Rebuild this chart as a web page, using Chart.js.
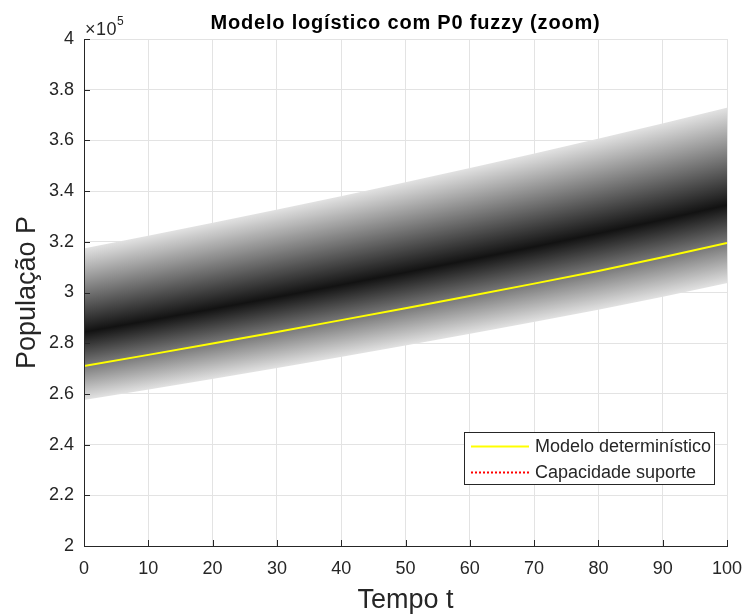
<!DOCTYPE html>
<html>
<head>
<meta charset="utf-8">
<script src="https://cdn.jsdelivr.net/npm/chart.js@4"></script>
<style>
  body { margin: 0; background: #fff; }
  #wrap { width: 747px; height: 615px; }
</style>
</head>
<body>
<div id="wrap"><canvas id="grafico" width="747" height="615"></canvas></div>
<script>
// dados (população em habitantes)
const tempo = [0, 10, 20, 30, 40, 50, 60, 70, 80, 90, 100];
const modeloDeterministico = [271000, 275400, 279900, 284400, 289100, 293800, 298600, 303500, 308500, 313900, 319500];
const capacidadeSuporte = []; // fica fora da janela (zoom)
// bordas e núcleo da faixa fuzzy
const faixaInferior = [257600, 261700, 265900, 270200, 274600, 279100, 283700, 288400, 293200, 298300, 303700];
const faixaNucleo   = [284400, 288900, 293500, 298200, 303000, 307900, 312900, 318000, 323300, 328700, 334500];
const faixaSuperior = [317400, 322400, 327500, 332700, 338000, 343500, 349100, 354800, 360700, 366700, 372900];
const ticksX = [0, 10, 20, 30, 40, 50, 60, 70, 80, 90, 100];
const ticksY = [200000, 220000, 240000, 260000, 280000, 300000, 320000, 340000, 360000, 380000, 400000];

const corTexto = '#262626';
const corBorda = 'rgb(226,226,226)';
const corCentro = 'rgb(18,18,18)';

function pares(ys) {
    return tempo.map((t, i) => ({ x: t, y: ys[i] }));
}

// Faixa com degradê: cada coluna vai da borda clara ao núcleo escuro
const faixaPlugin = {
    id: 'faixaFuzzy',
    beforeDatasetsDraw(chart) {
        const ctx = chart.ctx;
        const area = chart.chartArea;
        const inf = chart.getDatasetMeta(2).data;
        const mid = chart.getDatasetMeta(3).data;
        const sup = chart.getDatasetMeta(4).data;
        ctx.save();
        ctx.beginPath();
        ctx.rect(area.left, area.top, area.right - area.left, area.bottom - area.top);
        ctx.clip();
        for (let i = 0; i < mid.length - 1; i++) {
            const x0 = mid[i].x, x1 = mid[i + 1].x;
            for (let x = Math.round(x0); x < Math.round(x1); x++) {
                const f = (x + 0.5 - x0) / (x1 - x0);
                const yS = sup[i].y + f * (sup[i + 1].y - sup[i].y);
                const yM = mid[i].y + f * (mid[i + 1].y - mid[i].y);
                const yI = inf[i].y + f * (inf[i + 1].y - inf[i].y);
                const g = ctx.createLinearGradient(0, yS, 0, yI);
                g.addColorStop(0, corBorda);
                g.addColorStop((yM - yS) / (yI - yS), corCentro);
                g.addColorStop(1, corBorda);
                ctx.fillStyle = g;
                ctx.fillRect(x, yS, 1, yI - yS);
            }
        }
        ctx.restore();
    },
    afterDatasetsDraw(chart) {
        // eixos e marcas internas no estilo MATLAB
        const ctx = chart.ctx;
        const area = chart.chartArea;
        const sx = chart.scales.x, sy = chart.scales.y;
        ctx.save();
        ctx.strokeStyle = corTexto;
        ctx.lineWidth = 1;
        ctx.beginPath();
        ctx.moveTo(Math.round(area.left) + 0.5, area.top);
        ctx.lineTo(Math.round(area.left) + 0.5, Math.round(area.bottom) + 0.5);
        ctx.lineTo(area.right, Math.round(area.bottom) + 0.5);
        ctx.stroke();
        ctx.beginPath();
        ticksY.forEach(v => {
            const y = Math.round(sy.getPixelForValue(v)) + 0.5;
            ctx.moveTo(area.left, y);
            ctx.lineTo(area.left + 6, y);
        });
        ticksX.forEach(v => {
            const x = Math.round(sx.getPixelForValue(v)) + 0.5;
            ctx.moveTo(x, area.bottom);
            ctx.lineTo(x, area.bottom - 6);
        });
        ctx.stroke();
        ctx.restore();
    },
    afterDraw(chart) {
        const ctx = chart.ctx;
        const area = chart.chartArea;
        const fam = "'Liberation Sans', Arial, sans-serif";
        ctx.save();
        ctx.fillStyle = '#000';
        ctx.textAlign = 'center';
        ctx.textBaseline = 'alphabetic';
        ctx.font = 'bold 20px ' + fam;
        if ('letterSpacing' in ctx) ctx.letterSpacing = '0.8px';
        ctx.fillText('Modelo logístico com P0 fuzzy (zoom)', (area.left + area.right) / 2, 29);
        // multiplicador do eixo y
        ctx.fillStyle = corTexto;
        ctx.textAlign = 'left';
        ctx.font = '18px ' + fam;
        if ('letterSpacing' in ctx) ctx.letterSpacing = '0.5px';
        ctx.fillText('×10', area.left + 1, area.top - 4);
        const w = ctx.measureText('×10').width;
        ctx.font = '12px ' + fam;
        if ('letterSpacing' in ctx) ctx.letterSpacing = '0px';
        ctx.fillText('5', area.left + 1 + w, area.top - 14);

        // legenda dentro da área do gráfico
        const bx = area.right - 263, by = area.bottom - 114, bw = 250, bh = 52;
        ctx.fillStyle = '#fff';
        ctx.fillRect(bx, by, bw, bh);
        ctx.strokeStyle = corTexto;
        ctx.lineWidth = 1;
        ctx.strokeRect(bx + 0.5, by + 0.5, bw, bh);
        const itens = [
            { texto: 'Modelo determinístico', cor: '#ffff00', traco: [] },
            { texto: 'Capacidade suporte', cor: '#ff0000', traco: [2, 2] }
        ];
        ctx.font = '18px ' + fam;
        ctx.textBaseline = 'middle';
        itens.forEach((it, k) => {
            const y = by + 14.5 + k * 26;
            ctx.strokeStyle = it.cor;
            ctx.lineWidth = 2;
            ctx.setLineDash(it.traco);
            ctx.beginPath();
            ctx.moveTo(bx + 7, y);
            ctx.lineTo(bx + 65, y);
            ctx.stroke();
            ctx.setLineDash([]);
            ctx.fillStyle = corTexto;
            ctx.fillText(it.texto, bx + 71, y + 1);
        });
        ctx.restore();
    }
};

Chart.defaults.font.family = "'Liberation Sans', Arial, sans-serif";
Chart.defaults.color = corTexto;

const ctx = document.getElementById('grafico').getContext('2d');
const chart = new Chart(ctx, {
    type: 'line',
    data: {
        datasets: [{
            label: 'Modelo determinístico',
            data: pares(modeloDeterministico),
            borderColor: '#ffff00',
            borderWidth: 2,
            pointRadius: 0,
            fill: false
        }, {
            label: 'Capacidade suporte',
            data: capacidadeSuporte,
            borderColor: '#ff0000',
            borderDash: [2, 2],
            borderWidth: 2,
            pointRadius: 0,
            fill: false
        }, {
            label: 'inferior',
            data: pares(faixaInferior),
            showLine: false,
            pointRadius: 0,
            borderWidth: 0
        }, {
            label: 'nucleo',
            data: pares(faixaNucleo),
            showLine: false,
            pointRadius: 0,
            borderWidth: 0
        }, {
            label: 'superior',
            data: pares(faixaSuperior),
            showLine: false,
            pointRadius: 0,
            borderWidth: 0
        }]
    },
    options: {
        responsive: false,
        animation: false,
        layout: { padding: { top: 39, right: 20, left: 0, bottom: 0 } },
        plugins: {
            legend: { display: false },
            title: { display: false },
            tooltip: { enabled: false }
        },
        scales: {
            x: {
                type: 'linear',
                min: 0,
                max: 100,
                afterBuildTicks: s => { s.ticks = ticksX.map(v => ({ value: v })); },
                ticks: { padding: 12, color: corTexto, font: { size: 18 }, maxRotation: 0 },
                grid: { color: '#e3e3e3', drawTicks: false },
                border: { color: corTexto },
                title: {
                    display: true,
                    text: 'Tempo t',
                    color: corTexto,
                    font: { size: 27, lineHeight: 1 },
                    padding: { top: 0, bottom: 1 }
                },
                afterFit: s => { s.height = 69; s.paddingLeft = 0; s.paddingRight = 0; }
            },
            y: {
                min: 200000,
                max: 400000,
                afterBuildTicks: s => { s.ticks = ticksY.map(v => ({ value: v })); },
                ticks: {
                    padding: 10,
                    color: corTexto,
                    font: { size: 18 },
                    callback: v => String(+(v / 1e5).toFixed(1))
                },
                grid: { color: '#e3e3e3', drawTicks: false },
                border: { color: corTexto },
                title: {
                    display: true,
                    text: 'População P',
                    color: corTexto,
                    font: { size: 27, lineHeight: 1 },
                    padding: { top: 14, bottom: 0 }
                },
                afterFit: s => { s.width = 84; s.paddingTop = 0; s.paddingBottom = 0; }
            }
        }
    },
    plugins: [faixaPlugin]
});
</script>
</body>
</html>
